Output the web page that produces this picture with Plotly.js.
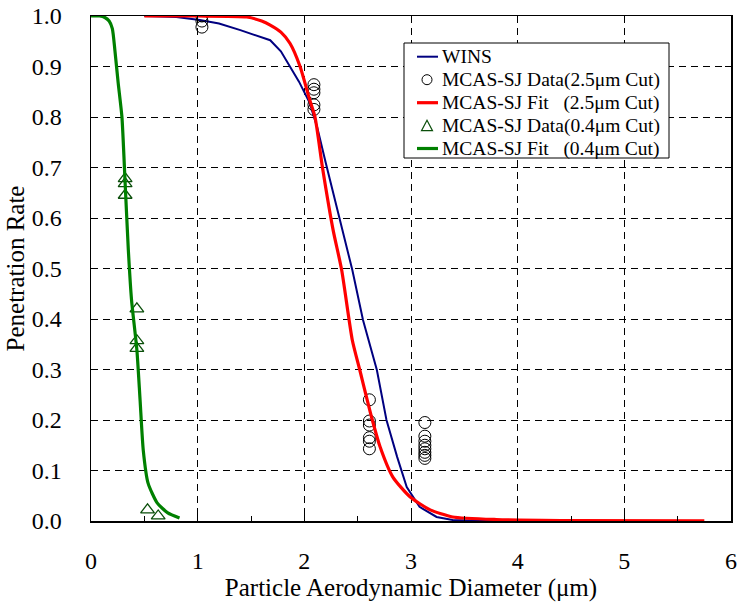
<!DOCTYPE html>
<html>
<head>
<meta charset="utf-8">
<script src="https://cdn.plot.ly/plotly-3.0.1.min.js"></script>
<style>html,body{margin:0;padding:0;background:#fff;}#chart{width:741px;height:603px;}</style>
</head>
<body>
<div id="chart"></div>
<script>
// WINS curve
const winsX = [0.5, 0.8, 1.02, 1.2, 1.4, 1.55, 1.68, 1.78, 1.865, 1.95, 2.05, 2.12, 2.2, 2.28, 2.36, 2.45, 2.55, 2.68, 2.77, 2.87, 2.96, 3.08, 3.24, 3.39, 3.6, 4.0];
const winsY = [1.0, 0.998, 0.992, 0.985, 0.972, 0.962, 0.952, 0.93, 0.899, 0.87, 0.828, 0.78, 0.71, 0.64, 0.576, 0.497, 0.398, 0.299, 0.2, 0.127, 0.067, 0.028, 0.008, 0.002, 0.0005, 0.0];
// MCAS-SJ fit (2.5 um cut)
const fit25X = [0.5, 1.0, 1.46, 1.6, 1.68, 1.78, 1.865, 1.96, 2.05, 2.1, 2.17, 2.27, 2.35, 2.45, 2.52, 2.63, 2.71, 2.83, 2.99, 3.18, 3.39, 3.8, 4.5, 5.75];
const fit25Y = [1.0, 1.0, 0.998, 0.99, 0.982, 0.968, 0.946, 0.9, 0.834, 0.8, 0.7, 0.576, 0.497, 0.358, 0.299, 0.206, 0.147, 0.087, 0.048, 0.022, 0.008, 0.003, 0.001, 0.0005];
// MCAS-SJ data (2.5 um cut)
const data25X = [1.04, 1.04, 1.04, 2.09, 2.09, 2.09, 2.09, 2.09, 2.61, 2.61, 2.61, 2.61, 2.61, 2.61, 3.13, 3.13, 3.13, 3.13, 3.13, 3.13, 3.13, 3.13];
const data25Y = [1.0, 0.99, 0.978, 0.864, 0.855, 0.848, 0.824, 0.815, 0.24, 0.198, 0.19, 0.165, 0.158, 0.143, 0.195, 0.168, 0.158, 0.15, 0.143, 0.136, 0.13, 0.124];
// MCAS-SJ data (0.4 um cut)
const data04X = [0.32, 0.32, 0.32, 0.43, 0.43, 0.43, 0.53, 0.63];
const data04Y = [0.678, 0.668, 0.645, 0.42, 0.357, 0.342, 0.022, 0.01];
// MCAS-SJ fit (0.4 um cut)
const fit04X = [0.0, 0.08, 0.13, 0.17, 0.2, 0.225, 0.255, 0.29, 0.32, 0.35, 0.38, 0.43, 0.46, 0.49, 0.535, 0.62, 0.72, 0.83];
const fit04Y = [1.0, 1.0, 0.997, 0.99, 0.975, 0.93, 0.867, 0.8, 0.669, 0.537, 0.438, 0.339, 0.24, 0.14, 0.075, 0.036, 0.016, 0.006];

const names = ['WINS', 'MCAS-SJ Data(2.5\u03bcm Cut)', 'MCAS-SJ Fit\u00a0\u00a0\u00a0(2.5\u03bcm Cut)', 'MCAS-SJ Data(0.4\u03bcm Cut)', 'MCAS-SJ Fit\u00a0\u00a0\u00a0(0.4\u03bcm Cut)'];
const xTicks = [0, 1, 2, 3, 4, 5, 6];

const F = 'Liberation Serif, Times New Roman, serif';
const C = {wins: '#000080', fit25: '#ff0000', tri: '#0b4f0b', fit04: '#008000'};
const traces = [
  {x: winsX, y: winsY, name: names[0], mode: 'lines', line: {color: C.wins, width: 2}},
  {x: data25X, y: data25Y, name: names[1], mode: 'markers', marker: {symbol: 'circle-open', size: 12, color: '#000', line: {width: 1}}},
  {x: fit25X, y: fit25Y, name: names[2], mode: 'lines', line: {color: C.fit25, width: 3.2, shape: 'spline', smoothing: 0.6}},
  {x: data04X, y: data04Y, name: names[3], mode: 'markers', marker: {symbol: 'triangle-up-open', size: 12, color: C.tri, line: {width: 1.3}}},
  {x: fit04X, y: fit04Y, name: names[4], mode: 'lines', line: {color: C.fit04, width: 3.2, shape: 'spline', smoothing: 0.6}},
  {x: [0, 6], y: [null, null], xaxis: 'x2', showlegend: false, hoverinfo: 'skip', mode: 'lines'}
];

// custom legend (layout only), pixel -> paper helpers for the 640x505 plot area
const L = 91, T = 16, W = 640, H = 505;
const px = p => (p - L) / W;
const py = p => (T + H - p) / H;
const rowY = [56.7, 79.7, 102.7, 125.7, 148.5];
const shapes = [
  {type: 'rect', xref: 'paper', yref: 'paper', x0: px(404), x1: px(669), y0: py(43), y1: py(158), line: {color: '#000', width: 1}, fillcolor: '#fff', layer: 'above'},
  {type: 'line', xref: 'paper', yref: 'paper', x0: px(417), x1: px(438), y0: py(rowY[0]), y1: py(rowY[0]), line: {color: C.wins, width: 2}, layer: 'above'},
  {type: 'circle', xref: 'paper', yref: 'paper', x0: px(422), x1: px(432), y0: py(rowY[1] - 5), y1: py(rowY[1] + 5), line: {color: '#000', width: 1}, layer: 'above'},
  {type: 'line', xref: 'paper', yref: 'paper', x0: px(417), x1: px(438), y0: py(rowY[2]), y1: py(rowY[2]), line: {color: C.fit25, width: 3.2}, layer: 'above'},
  {type: 'path', xref: 'paper', yref: 'paper', layer: 'above', line: {color: C.tri, width: 1.2},
   path: `M ${px(421.5)} ${py(rowY[3] + 5)} L ${px(432.5)} ${py(rowY[3] + 5)} L ${px(427)} ${py(rowY[3] - 5.5)} Z`},
  {type: 'line', xref: 'paper', yref: 'paper', x0: px(417), x1: px(438), y0: py(rowY[4]), y1: py(rowY[4]), line: {color: C.fit04, width: 3.2}, layer: 'above'}
];
const annotations = names.map((n, i) => ({
  xref: 'paper', yref: 'paper', x: px(440), y: py(rowY[i]), xanchor: 'left', yanchor: 'middle',
  text: n, showarrow: false, font: {family: F, size: 19.5, color: '#000'}
}));

const layout = {
  width: 741, height: 603,
  margin: {l: L, r: 10, t: T, b: 82},
  paper_bgcolor: '#fff', plot_bgcolor: '#fff',
  font: {family: F, color: '#000', size: 24},
  showlegend: false,
  shapes: shapes,
  annotations: annotations,
  xaxis: {range: [0, 6], tickvals: xTicks, ticktext: xTicks.map(String), ticks: 'inside', ticklen: 6, tickcolor: '#000',
          showline: true, linecolor: '#000', linewidth: 1.5, mirror: true, zeroline: false,
          showgrid: true, gridcolor: '#000', gridwidth: 1, griddash: '7px,5px',
          minor: {tickvals: [0.5, 1.5, 2.5, 3.5, 4.5, 5.5], ticks: 'inside', ticklen: 5, tickcolor: '#000', showgrid: false},
          tickfont: {family: F, size: 24}, ticklabelstandoff: 18,
          title: {text: 'Particle Aerodynamic Diameter (\u03bcm)', font: {family: F, size: 25}, standoff: 4}},
  xaxis2: {range: [0, 6], overlaying: 'x', side: 'top', tickvals: [1, 2, 3, 4, 5], ticks: 'inside', ticklen: 6, tickcolor: '#000',
           showticklabels: false, showgrid: false, zeroline: false, showline: false},
  yaxis: {range: [0, 1], dtick: 0.1, tick0: 0, tickformat: '.1f', ticks: 'inside', ticklen: 6, tickcolor: '#000',
          showline: true, linecolor: '#000', linewidth: 1.5, mirror: 'ticks', zeroline: false,
          showgrid: true, gridcolor: '#000', gridwidth: 1, griddash: '7px,5px',
          tickfont: {family: F, size: 24}, ticklabelstandoff: 23,
          title: {text: 'Penetration Rate', font: {family: F, size: 25}, standoff: 0}}
};

Plotly.newPlot('chart', traces, layout, {displayModeBar: false, staticPlot: true});
</script>
</body>
</html>
